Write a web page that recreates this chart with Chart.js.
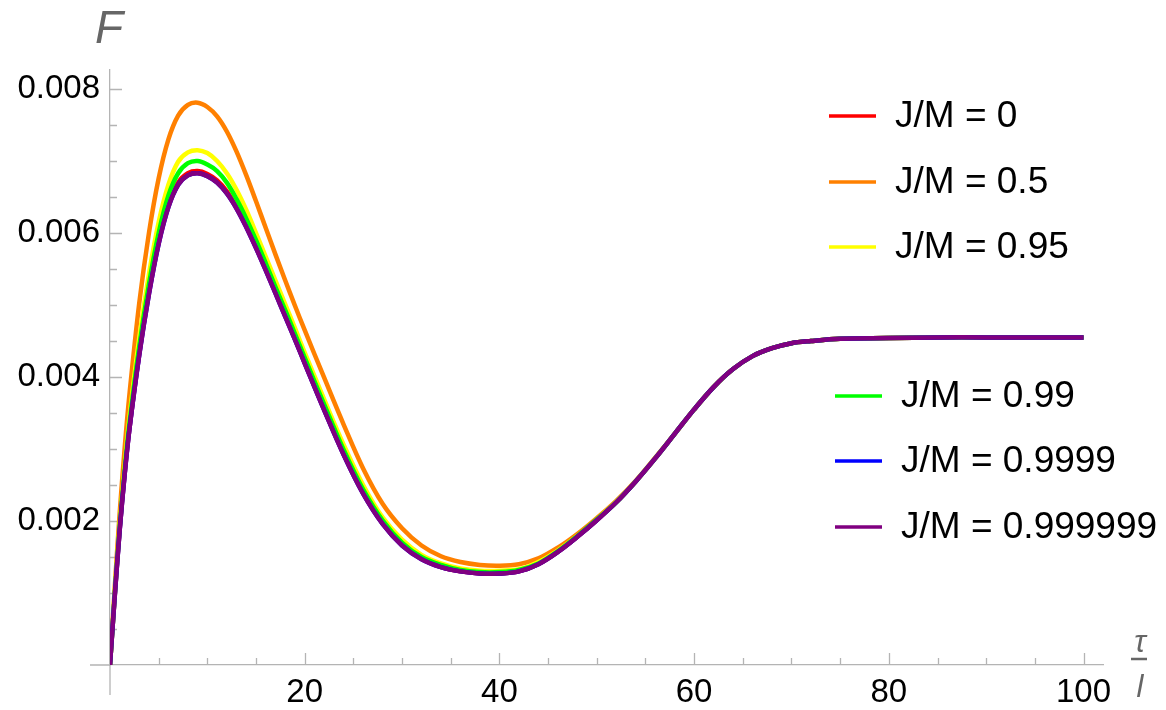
<!DOCTYPE html>
<html>
<head>
<meta charset="utf-8">
<title>F against tau / l</title>
<script src="https://cdn.jsdelivr.net/npm/chart.js@4.4.1/dist/chart.umd.min.js"></script>
<style>
  html, body { margin: 0; padding: 0; background: #fff; }
  #wrap { position: relative; width: 1166px; height: 710px; }
</style>
</head>
<body>
<div id="wrap"><canvas id="chart" width="1166" height="710"></canvas></div>
<script>
// sample points along tau / l
const tauValues = [0, 0.5, 1, 1.5, 2, 3, 4, 5, 6, 7, 8, 9, 10, 11, 12, 13, 14, 15, 16, 17, 18, 19, 20,
  22, 24, 26, 28, 30, 32, 34, 36, 38, 40, 42, 44, 46, 48, 50, 52, 54, 56, 58, 60, 62, 64, 66, 68, 70, 72,
  75, 80, 85, 90, 95, 100];

const seriesLabels = ['J/M = 0', 'J/M = 0.5', 'J/M = 0.95', 'J/M = 0.99', 'J/M = 0.9999', 'J/M = 0.999999'];
const seriesColors = ['#ff0000', '#ff8000', '#ffff00', '#00ff00', '#0000ff', '#800080'];

const fJ0 = [0, 0.00098, 0.00189, 0.00265, 0.00329, 0.00432, 0.00518, 0.00588, 0.00639, 0.00670, 0.00683,
  0.00686, 0.00682, 0.00673, 0.00658, 0.00636, 0.00610, 0.00581, 0.00550, 0.00518, 0.00486, 0.00453, 0.00420,
  0.00355, 0.00293, 0.00239, 0.00197, 0.00167, 0.00148, 0.00136, 0.00130, 0.00127, 0.00127, 0.00130, 0.00140,
  0.00157, 0.00178, 0.00201, 0.00226, 0.00255, 0.00287, 0.00321, 0.00355, 0.00386, 0.00411, 0.00429, 0.00440,
  0.00447, 0.00450, 0.00453, 0.00454, 0.00455, 0.00455, 0.00455, 0.00455];
const fJ05 = [0, 0.00110, 0.00212, 0.00300, 0.00376, 0.00502, 0.00600, 0.00676, 0.00730, 0.00763, 0.00778,
  0.00781, 0.00775, 0.00762, 0.00741, 0.00713, 0.00680, 0.00644, 0.00607, 0.00570, 0.00534, 0.00499, 0.00465,
  0.00399, 0.00334, 0.00273, 0.00224, 0.00190, 0.00166, 0.00151, 0.00143, 0.00139, 0.00138, 0.00140, 0.00148,
  0.00163, 0.00182, 0.00204, 0.00228, 0.00256, 0.00288, 0.00321, 0.00355, 0.00386, 0.00411, 0.00429, 0.00440,
  0.00447, 0.00450, 0.00453, 0.00454, 0.00455, 0.00455, 0.00455, 0.00455];
const fJ095 = [0, 0.00102, 0.00196, 0.00276, 0.00344, 0.00454, 0.00543, 0.00615, 0.00667, 0.00699, 0.00712,
  0.00715, 0.00711, 0.00700, 0.00683, 0.00660, 0.00632, 0.00600, 0.00567, 0.00534, 0.00501, 0.00468, 0.00434,
  0.00369, 0.00306, 0.00250, 0.00205, 0.00174, 0.00153, 0.00141, 0.00134, 0.00131, 0.00131, 0.00133, 0.00143,
  0.00159, 0.00179, 0.00202, 0.00227, 0.00255, 0.00287, 0.00321, 0.00355, 0.00386, 0.00411, 0.00429, 0.00440,
  0.00447, 0.00450, 0.00453, 0.00454, 0.00455, 0.00455, 0.00455, 0.00455];
const fJ099 = [0, 0.00100, 0.00192, 0.00270, 0.00336, 0.00442, 0.00529, 0.00600, 0.00652, 0.00683, 0.00697,
  0.00700, 0.00695, 0.00686, 0.00670, 0.00647, 0.00620, 0.00590, 0.00558, 0.00525, 0.00493, 0.00460, 0.00427,
  0.00362, 0.00299, 0.00244, 0.00201, 0.00170, 0.00150, 0.00139, 0.00132, 0.00129, 0.00129, 0.00132, 0.00141,
  0.00158, 0.00179, 0.00202, 0.00226, 0.00255, 0.00287, 0.00321, 0.00355, 0.00386, 0.00411, 0.00429, 0.00440,
  0.00447, 0.00450, 0.00453, 0.00454, 0.00455, 0.00455, 0.00455, 0.00455];
const fJ09999 = [0, 0.00098, 0.00188, 0.00264, 0.00328, 0.00430, 0.00515, 0.00585, 0.00636, 0.00667, 0.00680,
  0.00683, 0.00679, 0.00670, 0.00655, 0.00634, 0.00608, 0.00579, 0.00548, 0.00516, 0.00484, 0.00452, 0.00419,
  0.00354, 0.00292, 0.00238, 0.00196, 0.00166, 0.00147, 0.00136, 0.00130, 0.00127, 0.00127, 0.00130, 0.00140,
  0.00157, 0.00178, 0.00201, 0.00226, 0.00255, 0.00287, 0.00321, 0.00355, 0.00386, 0.00411, 0.00429, 0.00440,
  0.00447, 0.00450, 0.00453, 0.00454, 0.00455, 0.00455, 0.00455, 0.00455];
const fJ0999999 = [0, 0.00098, 0.00188, 0.00264, 0.00328, 0.00430, 0.00515, 0.00585, 0.00636, 0.00667, 0.00680,
  0.00683, 0.00679, 0.00670, 0.00655, 0.00634, 0.00608, 0.00579, 0.00548, 0.00516, 0.00484, 0.00452, 0.00419,
  0.00354, 0.00292, 0.00238, 0.00196, 0.00166, 0.00147, 0.00136, 0.00130, 0.00127, 0.00127, 0.00130, 0.00140,
  0.00157, 0.00178, 0.00201, 0.00226, 0.00255, 0.00287, 0.00321, 0.00355, 0.00386, 0.00411, 0.00429, 0.00440,
  0.00447, 0.00450, 0.00453, 0.00454, 0.00455, 0.00455, 0.00455, 0.00455];

const xTicks = [20, 40, 60, 80, 100];
const yTicks = [0.002, 0.004, 0.006, 0.008];

const axisColor = '#b4b4b4';
const labelFont = '"Liberation Sans", Arial, sans-serif';

// Mathematica style axes: inward ticks with minors, axes run past the origin
const axisDecor = {
  id: 'axisDecor',
  beforeDatasetsDraw(chart) {
    const { ctx, scales: { x, y } } = chart;
    const x0 = x.getPixelForValue(0);
    const y0 = y.getPixelForValue(0);
    ctx.save();
    ctx.strokeStyle = axisColor;
    ctx.lineWidth = 1.3;
    ctx.beginPath();
    ctx.moveTo(x0 - 20, y0); ctx.lineTo(x0, y0);
    ctx.moveTo(x0, y0); ctx.lineTo(x0, y0 + 30);
    for (let v = 5; v <= 100; v += 5) {
      const px = Math.round(x.getPixelForValue(v)) + 0.5;
      const len = xTicks.includes(v) ? 12 : 7;
      ctx.moveTo(px, y0); ctx.lineTo(px, y0 - len);
    }
    for (let k = 1; k <= 16; k++) {
      const py = Math.round(y.getPixelForValue(k * 0.0005)) + 0.5;
      const len = k % 4 === 0 ? 12 : 7;
      ctx.moveTo(x0, py); ctx.lineTo(x0 + len, py);
    }
    ctx.stroke();
    ctx.restore();
  }
};

// axis names: F on top, tau over l at the right end
const axisNames = {
  id: 'axisNames',
  afterDraw(chart) {
    const { ctx } = chart;
    ctx.save();
    ctx.fillStyle = '#666';
    ctx.strokeStyle = '#666';
    ctx.font = 'italic 46px ' + labelFont;
    ctx.textBaseline = 'alphabetic';
    ctx.fillText('F', 95, 43);
    ctx.font = 'italic 31px ' + labelFont;
    ctx.textAlign = 'center';
    ctx.fillText('τ', 1140, 652);
    ctx.lineWidth = 2.5;
    ctx.beginPath();
    ctx.moveTo(1131, 659); ctx.lineTo(1147, 659);
    ctx.stroke();
    ctx.fillText('l', 1140, 697);
    ctx.restore();
  }
};

// legend split into two groups like the original
const splitLegend = {
  id: 'splitLegend',
  afterDraw(chart, args, opts) {
    const { ctx } = chart;
    ctx.save();
    ctx.font = '37px ' + labelFont;
    ctx.textBaseline = 'middle';
    chart.data.datasets.forEach((ds, i) => {
      const row = opts.rows[i];
      ctx.strokeStyle = ds.borderColor;
      ctx.lineWidth = 3.5;
      ctx.beginPath();
      ctx.moveTo(row.x, row.y); ctx.lineTo(row.x + 47, row.y);
      ctx.stroke();
      ctx.fillStyle = '#000';
      ctx.fillText(ds.label, row.x + 66, row.y + 1);
    });
    ctx.restore();
  }
};

const seriesValues = [fJ0, fJ05, fJ095, fJ099, fJ09999, fJ0999999];

const datasets = seriesValues.map((vals, i) => ({
  label: seriesLabels[i],
  data: tauValues.map((t, k) => ({ x: t, y: vals[k] })),
  borderColor: seriesColors[i],
  backgroundColor: seriesColors[i],
  borderWidth: 4.5,
  pointRadius: 0,
  fill: false,
  tension: 0.35,
  order: seriesValues.length - 1 - i
}));

new Chart(document.getElementById('chart'), {
  type: 'line',
  data: { datasets },
  plugins: [axisDecor, axisNames, splitLegend],
  options: {
    responsive: false,
    animation: false,
    devicePixelRatio: 1,
    layout: { padding: { top: 70, right: 63, left: 0, bottom: 0 } },
    plugins: {
      legend: { display: false },
      tooltip: { enabled: false },
      splitLegend: {
        rows: [
          { x: 829, y: 116 }, { x: 829, y: 182 }, { x: 829, y: 247 },
          { x: 835, y: 396 }, { x: 835, y: 461 }, { x: 835, y: 527 }
        ]
      }
    },
    scales: {
      x: {
        type: 'linear',
        min: 0,
        max: 102,
        afterBuildTicks: axis => { axis.ticks = xTicks.map(v => ({ value: v })); },
        afterFit: scale => { scale.height = 45; },
        grid: { display: false, drawTicks: false },
        border: { display: true, color: axisColor, width: 1.3 },
        ticks: {
          padding: 8,
          maxRotation: 0,
          color: '#000',
          font: { family: labelFont, size: 33 },
          callback: v => String(v)
        }
      },
      y: {
        type: 'linear',
        min: 0,
        max: 0.008264,
        afterBuildTicks: axis => { axis.ticks = yTicks.map(v => ({ value: v })); },
        afterFit: scale => { scale.width = 110; },
        grid: { display: false, drawTicks: false },
        border: { display: true, color: axisColor, width: 1.3 },
        ticks: {
          padding: 10,
          color: '#000',
          font: { family: labelFont, size: 33 },
          callback: v => v.toFixed(3)
        }
      }
    }
  }
});
</script>
</body>
</html>
